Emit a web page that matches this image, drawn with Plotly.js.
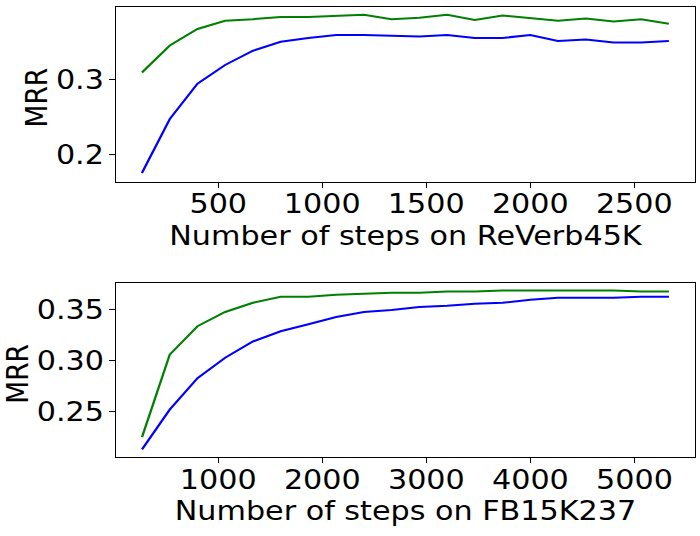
<!DOCTYPE html>
<html>
<head>
<meta charset="utf-8">
<script src="https://cdn.plot.ly/plotly-3.0.1.min.js"></script>
<style>
  html, body { margin: 0; padding: 0; background: #fff; overflow: hidden; }
  /* the reference is a horizontally stretched figure, so draw narrower and stretch */
  #chart { width: 614px; height: 536px; transform: scaleX(1.140); transform-origin: 0 0; }
</style>
</head>
<body>
<div id="chart"></div>
<script>
// steps (x) for each dataset
const stepsReverb = [133, 267, 400, 533, 667, 800, 933, 1067, 1200, 1333,
                     1467, 1600, 1733, 1867, 2000, 2133, 2267, 2400, 2533, 2666];
const stepsFb = [267, 533, 800, 1066, 1333, 1600, 1866, 2133, 2400, 2666,
                 2933, 3200, 3466, 3733, 4000, 4266, 4533, 4800, 5066, 5332];

// MRR values
const reverbGreen = [0.310, 0.346, 0.368, 0.379, 0.381, 0.384, 0.384, 0.386, 0.387, 0.381,
                     0.383, 0.387, 0.380, 0.386, 0.383, 0.379, 0.382, 0.378, 0.381, 0.375];
const reverbBlue = [0.176, 0.248, 0.295, 0.320, 0.339, 0.351, 0.356, 0.360, 0.360, 0.359,
                    0.358, 0.360, 0.356, 0.356, 0.360, 0.352, 0.354, 0.350, 0.350, 0.352];
const fbGreen = [0.225, 0.306, 0.334, 0.348, 0.357, 0.363, 0.363, 0.365, 0.366, 0.367,
                 0.367, 0.368, 0.368, 0.369, 0.369, 0.369, 0.369, 0.369, 0.368, 0.368];
const fbBlue = [0.213, 0.252, 0.283, 0.303, 0.319, 0.329, 0.336, 0.343, 0.348, 0.350,
                0.353, 0.354, 0.356, 0.357, 0.360, 0.362, 0.362, 0.362, 0.363, 0.363];

const font = { family: 'DejaVu Sans, sans-serif', size: 26.5, color: '#000' };

function axisBase(extra) {
  return Object.assign({
    showline: true, linecolor: '#000', linewidth: 1, mirror: true,
    ticks: 'outside', ticklen: 5, tickwidth: 1, tickcolor: '#000',
    showgrid: false, zeroline: false, tickfont: font
  }, extra);
}

var data = [
  { x: stepsReverb, y: reverbGreen, xaxis: 'x', yaxis: 'y', mode: 'lines',
    line: { color: 'green', width: 2 } },
  { x: stepsReverb, y: reverbBlue, xaxis: 'x', yaxis: 'y', mode: 'lines',
    line: { color: 'blue', width: 2 } },
  { x: stepsFb, y: fbGreen, xaxis: 'x2', yaxis: 'y2', mode: 'lines',
    line: { color: 'green', width: 2 } },
  { x: stepsFb, y: fbBlue, xaxis: 'x2', yaxis: 'y2', mode: 'lines',
    line: { color: 'blue', width: 2 } }
];

// y titles as rotated annotations so each sits where the reference has it
function yTitle(x, y) {
  return { text: 'MRR', xref: 'paper', yref: 'paper', x: x, y: y,
           xanchor: 'center', yanchor: 'middle', textangle: -90,
           showarrow: false, font: font };
}

var layout = {
  width: 614, height: 536,
  margin: { l: 0, r: 0, t: 0, b: 0 },
  paper_bgcolor: '#fff', plot_bgcolor: '#fff',
  showlegend: false,
  font: font,
  xaxis: axisBase({
    domain: [0.1653, 0.9933], anchor: 'y', range: [7, 2793], dtick: 500,
    ticklabelstandoff: -6,
    title: { text: 'Number of steps on ReVerb45K', font: font, standoff: 6 }
  }),
  yaxis: axisBase({
    domain: [0.661, 0.987], anchor: 'x', range: [0.1644, 0.3973], dtick: 0.1,
    ticklabelstandoff: -1
  }),
  xaxis2: axisBase({
    domain: [0.1653, 0.9933], anchor: 'y2', range: [14, 5585], dtick: 1000,
    ticklabelstandoff: -6,
    title: { text: 'Number of steps on FB15K237', font: font, standoff: 6 }
  }),
  yaxis2: axisBase({
    domain: [0.1474, 0.4715], anchor: 'x2', range: [0.2055, 0.3762], dtick: 0.05,
    tickformat: '.2f', ticklabelstandoff: -1
  }),
  annotations: [yTitle(0.052, 0.818), yTitle(0.0238, 0.302)]
};

Plotly.newPlot('chart', data, layout, { staticPlot: true, displayModeBar: false });
</script>
</body>
</html>
